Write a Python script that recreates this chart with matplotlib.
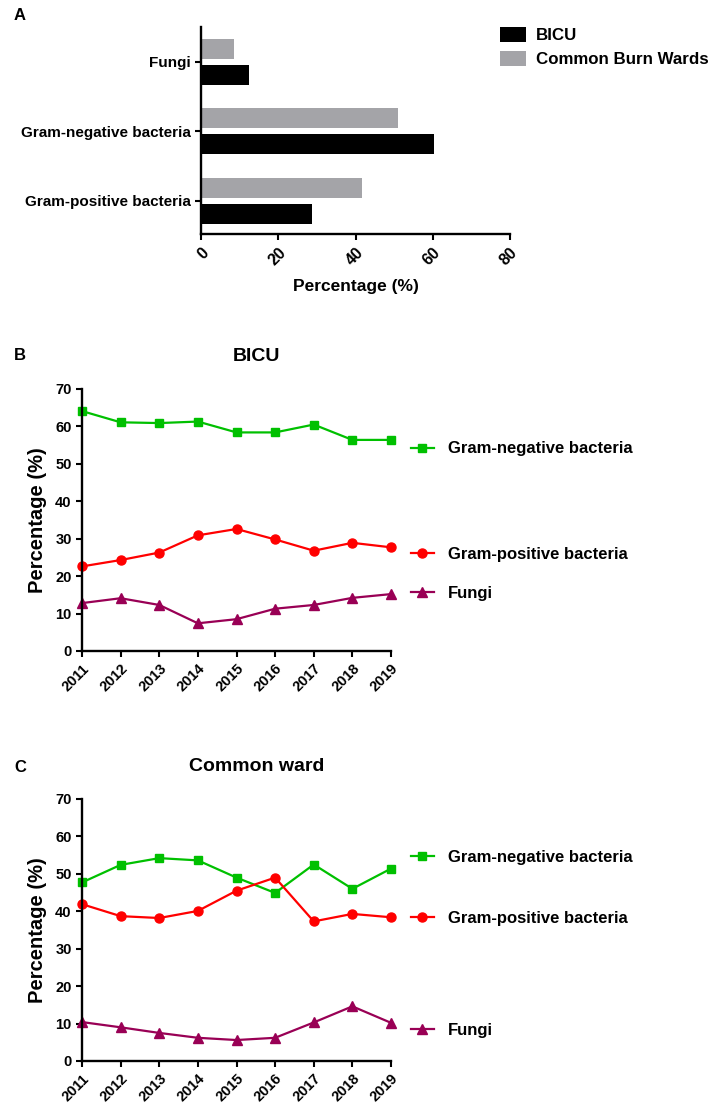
import numpy as np
import matplotlib.pyplot as plt
from matplotlib.lines import Line2D
from matplotlib.legend import Legend

plt.rcParams['font.family'] = ['Liberation Sans', 'DejaVu Sans']
plt.rcParams['font.weight'] = 'bold'
plt.rcParams['axes.labelweight'] = 'bold'
plt.rcParams['axes.titleweight'] = 'bold'

# panel A
categories = ["Gram-positive bacteria", "Gram-negative bacteria", "Fungi"]
bicu_pct = [28.8, 60.4, 12.3]
common_pct = [41.7, 51.1, 8.6]

# panels B and C
years = [2011, 2012, 2013, 2014, 2015, 2016, 2017, 2018, 2019]
bicu_gneg = [64.1, 61.1, 60.9, 61.3, 58.4, 58.4, 60.5, 56.4, 56.4]
bicu_gpos = [22.6, 24.3, 26.3, 30.9, 32.6, 29.8, 26.8, 28.9, 27.7]
bicu_fungi = [12.8, 14.1, 12.3, 7.4, 8.5, 11.3, 12.3, 14.2, 15.2]
ward_gneg = [47.7, 52.4, 54.2, 53.6, 49.0, 44.9, 52.5, 46.0, 51.4]
ward_gpos = [41.9, 38.7, 38.2, 40.1, 45.5, 49.0, 37.3, 39.3, 38.4]
ward_fungi = [10.4, 9.0, 7.5, 6.2, 5.6, 6.2, 10.3, 14.6, 10.2]

W, H = 713, 1111

fig = plt.figure(figsize=(W / 100, H / 100), dpi=100)


def frac(l, t, r, b):
    return [l / W, 1 - b / H, (r - l) / W, (b - t) / H]


def style_axes(ax):
    for s in ['top', 'right']:
        ax.spines[s].set_visible(False)
    for s in ['left', 'bottom']:
        ax.spines[s].set_linewidth(1.7)
    ax.tick_params(direction='out', length=4, width=1.5)


def rotate_xticks(ax):
    for t in ax.get_xticklabels():
        t.set_rotation(45)
        t.set_ha('right')
        t.set_va('top')
        t.set_rotation_mode('anchor')


# ---- A: bars
axA = fig.add_axes(frac(201, 27, 510, 234))
y = np.arange(len(categories))
axA.barh(y - 0.188, bicu_pct, height=0.29, color='black', label='BICU')
axA.barh(y + 0.188, common_pct, height=0.29, color='#a4a4a8', label='Common Burn Wards')
axA.set_xlim(0, 80)
axA.set_ylim(-0.48, 2.5)
axA.set_xticks([0, 20, 40, 60, 80])
axA.set_yticks(y)
axA.set_yticklabels(categories)
style_axes(axA)
axA.tick_params(axis='y', labelsize=11)
axA.tick_params(axis='x', labelsize=11.5, pad=4)
rotate_xticks(axA)
axA.set_xlabel('Percentage (%)', fontsize=12.5, labelpad=8)
axA.legend(loc='upper left', bbox_to_anchor=(0.968, 1.0), frameon=False,
           fontsize=12.2, handlelength=1.55, handleheight=1.0, handletextpad=0.55,
           labelspacing=0.45, borderaxespad=0, borderpad=0)
fig.text(20 / W, 1 - 15 / H, 'A', fontsize=12, ha='center', va='center')


# ---- B and C: lines
def line_panel(ax, gneg, gpos, fungi, title, leg_y):
    series = [
        (gneg, '#00c000', 's', 6, 'Gram-negative bacteria'),
        (gpos, '#ff0000', 'o', 6.5, 'Gram-positive bacteria'),
        (fungi, '#990055', '^', 6.5, 'Fungi'),
    ]
    for (vals, c, m, ms, name), ly in zip(series, leg_y):
        ax.plot(years, vals, color=c, marker=m, ms=ms, lw=1.6, clip_on=False)
        h = Line2D([], [], color=c, marker=m, ms=ms, lw=1.6)
        leg = Legend(ax, [h], [name], loc='center left', bbox_to_anchor=(1.065, ly),
                     frameon=False, fontsize=12, handlelength=1.35,
                     handletextpad=0.85, borderaxespad=0, borderpad=0)
        ax.add_artist(leg)
    ax.set_xlim(2011, 2019)
    ax.set_ylim(0, 70)
    ax.set_yticks(range(0, 71, 10))
    ax.set_xticks(years)
    style_axes(ax)
    ax.tick_params(labelsize=10.5)
    rotate_xticks(ax)
    ax.set_ylabel('Percentage (%)', fontsize=14.5, labelpad=6)
    ax.set_title(title, fontsize=14, x=0.566, pad=20)


axB = fig.add_axes(frac(82, 389, 391, 651))
line_panel(axB, bicu_gneg, bicu_gpos, bicu_fungi, 'BICU', [0.771, 0.37, 0.22])
fig.text(20 / W, 1 - 355 / H, 'B', fontsize=12, ha='center', va='center')

axC = fig.add_axes(frac(82, 799, 391, 1061))
line_panel(axC, ward_gneg, ward_gpos, ward_fungi, 'Common ward', [0.776, 0.5435, 0.117])
fig.text(20 / W, 1 - 767 / H, 'C', fontsize=12, ha='center', va='center')

fig.savefig('out.png', dpi=100)
